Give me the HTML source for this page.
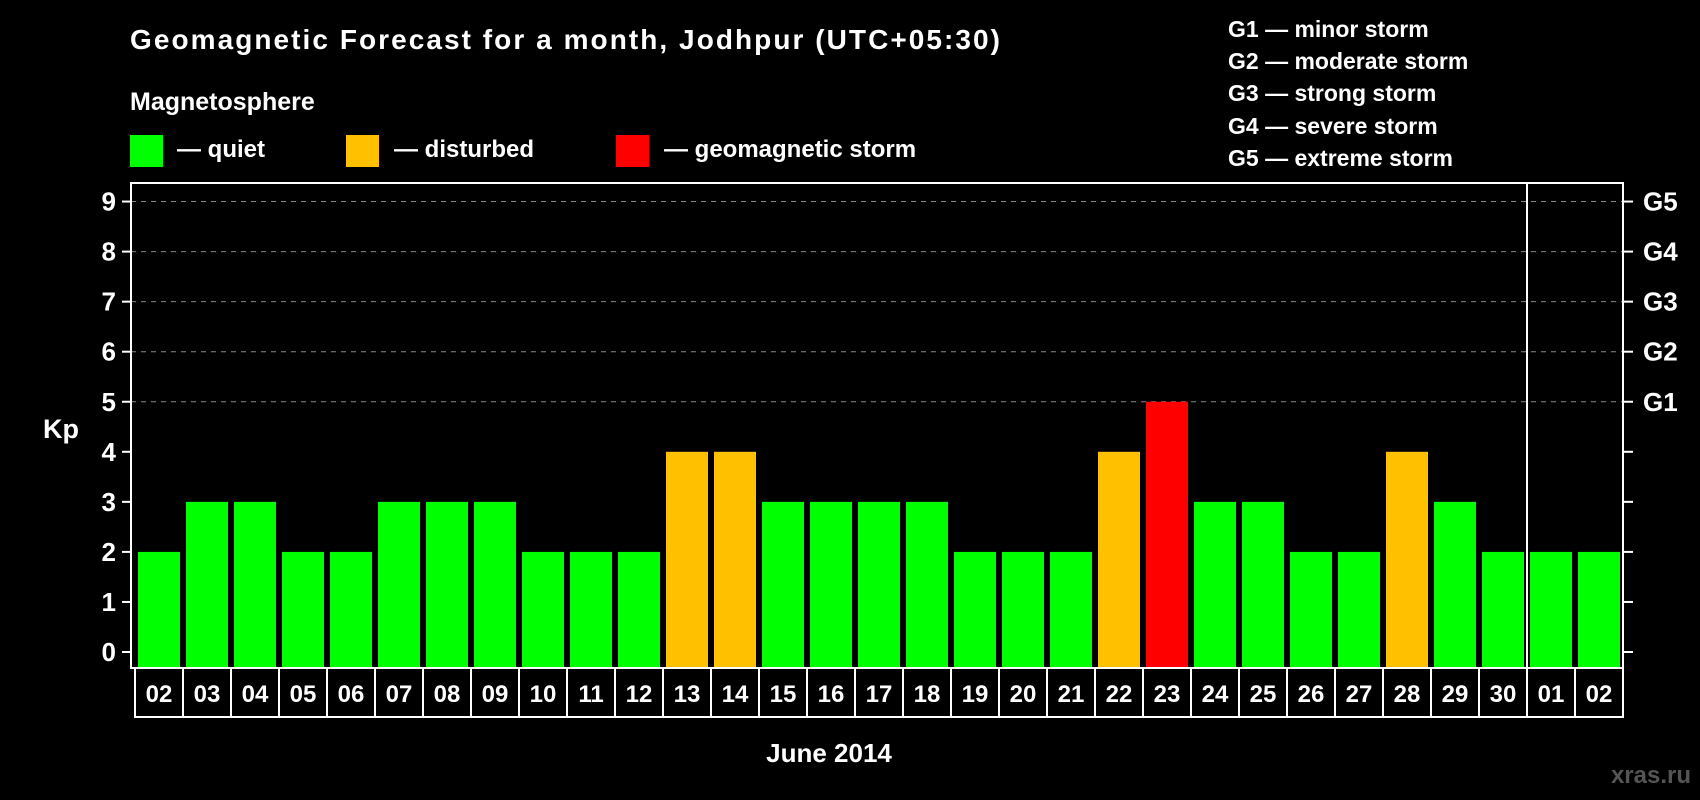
<!DOCTYPE html>
<html><head><meta charset="utf-8"><style>
html,body{margin:0;padding:0;background:#000;}
svg{display:block;font-family:"Liberation Sans",sans-serif;font-weight:bold;}
</style></head><body>
<svg id="chart" width="1700" height="800" viewBox="0 0 1700 800" xmlns="http://www.w3.org/2000/svg">
<rect width="1700" height="800" fill="#000"/>
<text x="130" y="49" fill="#fff" font-size="28" textLength="870">Geomagnetic Forecast for a month, Jodhpur (UTC+05:30)</text>
<text x="130" y="110" fill="#fff" font-size="25">Magnetosphere</text>
<g><rect x="130" y="135" width="33" height="32" fill="#00ff00"/><text x="177" y="157" fill="#fff" font-size="24">— quiet</text></g>
<g><rect x="346" y="135" width="33" height="32" fill="#ffc000"/><text x="394" y="157" fill="#fff" font-size="24">— disturbed</text></g>
<g><rect x="616" y="135" width="33" height="32" fill="#ff0000"/><text x="664" y="157" fill="#fff" font-size="24">— geomagnetic storm</text></g>
<g fill="#fff" font-size="23">
<text x="1228" y="37">G1 — minor storm</text>
<text x="1228" y="69">G2 — moderate storm</text>
<text x="1228" y="101">G3 — strong storm</text>
<text x="1228" y="134">G4 — severe storm</text>
<text x="1228" y="166">G5 — extreme storm</text>
</g>
<text x="43" y="438" fill="#fff" font-size="27">Kp</text>
<text x="829" y="762" fill="#fff" font-size="26" text-anchor="middle">June 2014</text>
<text x="1691" y="783" fill="#555" font-size="24" text-anchor="end">xras.ru</text>
<g id="grid"></g><g id="bars"></g><g id="axes"></g><g id="xlabels"></g>
</svg>
<script>
const days=["02","03","04","05","06","07","08","09","10","11","12","13","14","15","16","17","18","19","20","21","22","23","24","25","26","27","28","29","30","01","02"];
const kp=[2,3,3,2,2,3,3,3,2,2,2,4,4,3,3,3,3,2,2,2,4,5,3,3,2,2,4,3,2,2,2];
const yTicks=[0,1,2,3,4,5,6,7,8,9];
const gLabels=["G1","G2","G3","G4","G5"];
const NS="http://www.w3.org/2000/svg";
const X0=135,X1=1623,PL=131,PT=183,PB=668;
const colW=(X1-X0)/days.length;
const y=v=>652-v*50.05;
const xc=i=>X0+i*colW;
function mk(tag,attrs,parent){const e=document.createElementNS(NS,tag);for(const k in attrs)e.setAttribute(k,attrs[k]);parent.appendChild(e);return e;}
const grid=document.getElementById('grid'),bars=document.getElementById('bars'),axes=document.getElementById('axes'),xl=document.getElementById('xlabels');
yTicks.forEach(t=>{
  if(t>=5){const l=mk('line',{x1:PL,x2:X1,y1:y(t),y2:y(t),stroke:'#888','stroke-width':1,'stroke-dasharray':'5,5'},grid);
  
  }
  const tk=mk('line',{x1:PL-9,x2:PL,y1:y(t),y2:y(t),stroke:'#fff','stroke-width':2},axes);
  
  
  const tr=mk('line',{x1:X1,x2:X1+10,y1:y(t),y2:y(t),stroke:'#fff','stroke-width':2},axes);
  
  
  const tx=mk('text',{x:116,y:y(t)+9,fill:'#fff','font-size':26,'text-anchor':'end'},axes);tx.textContent=t;
  
  
});
gLabels.forEach((g,i)=>{const t=mk('text',{x:1643,y:y(5+i)+9,fill:'#fff','font-size':26},axes);t.textContent=g;
  
  });
kp.forEach((v,i)=>{
  const c=v>=5?'#ff0000':(v>=4?'#ffc000':'#00ff00');
  const r=mk('rect',{x:xc(i)+3,y:y(v),width:colW-6,height:PB-y(v),fill:c},bars);
  
  
});
mk('rect',{x:PL,y:PT,width:X1-PL,height:PB-PT,fill:'none',stroke:'#fff','stroke-width':2},axes);
const sep=mk('line',{x1:xc(29),x2:xc(29),y1:PT,y2:PB,stroke:'#fff','stroke-width':2},axes);


mk('rect',{x:X0,y:PB,width:X1-X0,height:49,fill:'none',stroke:'#fff','stroke-width':2},xl);
days.forEach((d,i)=>{
  if(i>0){mk('line',{x1:xc(i),x2:xc(i),y1:PB,y2:PB+49,stroke:'#fff','stroke-width':2},xl);}
  const t=mk('text',{x:xc(i)+colW/2,y:PB+34,fill:'#fff','font-size':24,'text-anchor':'middle'},xl);t.textContent=d;
  
  
});
</script>
</body></html>
